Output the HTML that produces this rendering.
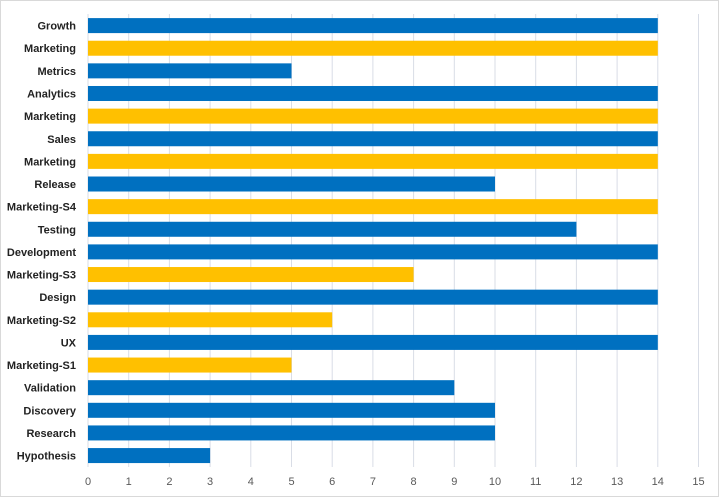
<!DOCTYPE html>
<html><head><style>
body{margin:0;background:#fff}
svg{display:block}
.l{font:bold 11px "Liberation Sans",sans-serif;fill:#222;text-anchor:end}
.t{font:11px "Liberation Sans",sans-serif;fill:#595959;text-anchor:middle}
</style></head><body>
<svg width="720" height="498" xmlns="http://www.w3.org/2000/svg">
<rect x="0.5" y="0.5" width="718" height="496" fill="#fff" stroke="#d9d9d9"/>
<g id="g"></g>
</svg>
<script>
const d=[["Growth",14,1],["Marketing",14,0],["Metrics",5,1],["Analytics",14,1],["Marketing",14,0],["Sales",14,1],["Marketing",14,0],["Release",10,1],["Marketing-S4",14,0],["Testing",12,1],["Development",14,1],["Marketing-S3",8,0],["Design",14,1],["Marketing-S2",6,0],["UX",14,1],["Marketing-S1",5,0],["Validation",9,1],["Discovery",10,1],["Research",10,1],["Hypothesis",3,1]];
const u=40.7,x0=88;let s="";
for(let i=0;i<=15;i++){const x=x0+i*u;s+=`<line x1="${x}" x2="${x}" y1="14" y2="467" stroke="#d9dde6" stroke-width="1"/><text class="t" x="${x}" y="485">${i}</text>`;}
d.forEach((r,i)=>{const c=25.6+i*22.63;s+=`<rect x="${x0}" y="${c-7.5}" width="${r[1]*u}" height="15" fill="${r[2]?'#0070c0':'#ffc000'}"/><text class="l" x="76" y="${c+4}">${r[0]}</text>`;});
document.getElementById("g").innerHTML=s;
</script>
</body></html>
